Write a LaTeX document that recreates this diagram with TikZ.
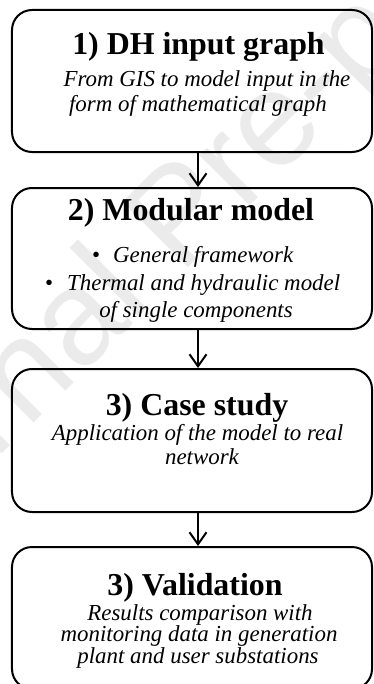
\documentclass[tikz,border=0pt]{standalone}
\usepackage{fontspec}
\setmainfont{Liberation Serif}
\newfontfamily\wmfont{Liberation Sans}
\usetikzlibrary{arrows.meta}

\tikzset{
  stepbox/.style={draw=black, line width=2bp, rounded corners=20bp, minimum width=360bp, inner sep=0pt},
  ttl/.style={font=\fontsize{32}{32}\selectfont\bfseries, anchor=base, inner sep=0pt},
  txt/.style={font=\fontsize{23}{23}\selectfont\itshape, anchor=base, inner sep=0pt},
  flow/.style={line width=2bp, -{Straight Barb[length=12bp, width=17bp, line width=2bp]}},
}

\begin{document}
\begin{tikzpicture}[x=1bp, y=-1bp]
  \useasboundingbox (0,0) rectangle (373,684);
  \clip (0,0) rectangle (373,684);

  % faint background watermark
  \node[rotate=45, text=black!8, font=\fontsize{135}{135}\selectfont\wmfont, inner sep=0pt] (wm) at (185,222) {Journal Pre-proof};

  % step boxes
  \node[stepbox, minimum height=142bp] (b1) at (192,81) {};
  \node[stepbox, minimum height=141bp] (b2) at (192,258.5) {};
  \node[stepbox, minimum height=143bp] (b3) at (192,440.5) {};
  \node[stepbox, minimum height=142bp] (b4) at (192,618) {};

  % step 1
  \node[ttl] (t1) at (198.5,55) {1) DH input graph};
  \node[txt] (t1a) at (207,87) {From GIS to model input in the};
  \node[txt] (t1b) at (198,112) {form of mathematical graph};

  % step 2
  \node[ttl] (t2) at (191,220) {2) Modular model};
  \node[txt, anchor=base west] (t2a) at (92,262) {\makebox[21bp][l]{\upshape\textbullet}General framework};
  \node[txt, anchor=base west] (t2b) at (45,290) {\makebox[22bp][l]{\upshape\textbullet}Thermal and hydraulic model};
  \node[txt] (t2c) at (196,317) {of single components};

  % step 3
  \node[ttl] (t3) at (197,415) {3) Case study};
  \node[txt] (t3a) at (197.5,440) {Application of the model to real};
  \node[txt] (t3b) at (202,464) {network};

  % step 4
  \node[ttl] (t4) at (195,595) {3) Validation};
  \node[txt] (t4a) at (200,620) {Results comparison with};
  \node[txt] (t4b) at (199,641.5) {monitoring data in generation};
  \node[txt] (t4c) at (198,663) {plant and user substations};

  % connectors
  \draw[flow] ([xshift=6bp]b1.south) -- ([xshift=6bp]b2.north);
  \draw[flow] ([xshift=6bp]b2.south) -- ([xshift=6bp]b3.north);
  \draw[flow] ([xshift=6bp]b3.south) -- ([xshift=6bp]b4.north);
\end{tikzpicture}
\end{document}
